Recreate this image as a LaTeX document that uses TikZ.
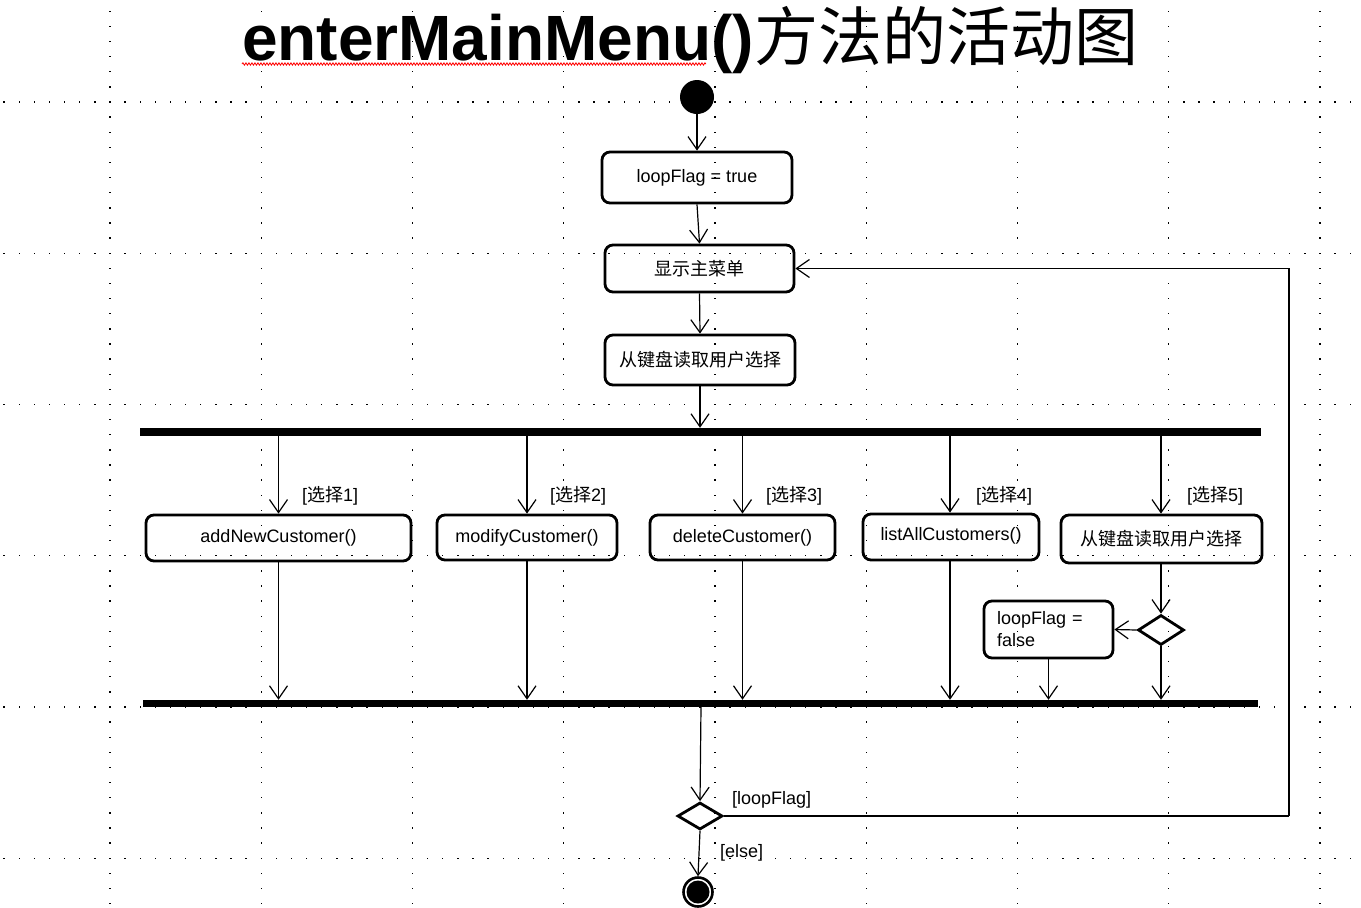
\documentclass[tikz,border=0pt]{standalone}
\usepackage{fontspec}
\setmainfont{Liberation Sans}
\newfontfamily\cjk{Noto Sans CJK SC}
\usetikzlibrary{arrows.meta,shapes.geometric,decorations.pathmorphing,calc}
\newcommand{\zh}[1]{{\cjk #1}}

\begin{document}
\begin{tikzpicture}[x=1pt,y=-1pt,
  act/.style={draw, line width=2.8pt, rounded corners=8pt, font=\fontsize{18}{22}\selectfont, inner sep=0pt},
  bar/.style={fill=black, inner sep=0pt, draw=none},
  dec/.style={diamond, draw, line width=2.8pt, inner sep=0pt},
  arr/.style={line width=1.2pt, -{Straight Barb[length=13pt,width=18pt,line width=1.2pt]}},
  lbl/.style={font=\fontsize{18}{22}\selectfont, inner sep=0pt, anchor=west},
  griddot/.style={fill=black},
]
\useasboundingbox (0,0) rectangle (1361,908);
\fill[white] (0,0) rectangle (1361,908);

% dotted grid
\foreach \yy in {102,253.25,404.5,555.75,707,858.25}{
  \foreach \i in {0,...,89}{
    \fill[griddot] ({4.1+15.125*\i-0.7},{\yy-0.7}) rectangle ++(1.4,1.4);
  }
}
\foreach \xx in {110,261.25,412.5,563.75,715,866.25,1017.5,1168.75,1320}{
  \foreach \j in {0,...,59}{
    \fill[griddot] ({\xx-0.7},{11.25+15.125*\j-0.7}) rectangle ++(1.4,1.4);
  }
}

% title
\node[anchor=base west, inner sep=0pt] (title) at (242,60)
  {\fontsize{64}{70}\selectfont\textbf{enterMainMenu()}\zh{方法的活动图}};
\draw[red, line width=0.8pt, decorate, decoration={snake, amplitude=1.2pt, segment length=3pt}]
  (242,64) -- (706,64);

% nodes
\node[circle, fill=black, minimum size=34pt, inner sep=0pt] (start) at (697,97) {};
\node[act, minimum width=190pt, minimum height=51pt] (n1) at (697,177.5) {loopFlag = true};
\node[act, minimum width=189pt, minimum height=47pt] (n2) at (699.5,268.5) {\zh{显示主菜单}};
\node[act, minimum width=190pt, minimum height=50pt] (n3) at (700,360) {\zh{从键盘读取用户选择}};

\node[bar, minimum width=1121pt, minimum height=8pt] (fork) at (700.5,432) {};

\node[act, minimum width=265pt, minimum height=46pt] (b1) at (278.5,538) {addNewCustomer()};
\node[act, minimum width=180pt, minimum height=45pt] (b2) at (527,537.5) {modifyCustomer()};
\node[act, minimum width=185pt, minimum height=45pt] (b3) at (742.5,537.5) {deleteCustomer()};
\node[act, minimum width=176pt, minimum height=46pt, text depth=6pt] (b4) at (951,537) {listAllCustomers()};
\node[act, minimum width=201pt, minimum height=48pt] (b5) at (1161.5,539) {\zh{从键盘读取用户选择}};

\node[lbl] (g1) at (302,496) {[\zh{选择}1]};
\node[lbl] (g2) at (550,496) {[\zh{选择}2]};
\node[lbl] (g3) at (766,496) {[\zh{选择}3]};
\node[lbl] (g4) at (976,496) {[\zh{选择}4]};
\node[lbl] (g5) at (1187,496) {[\zh{选择}5]};

\node[dec, minimum width=46pt, minimum height=30pt] (d1) at (1161,630) {};
\node[act, minimum width=129pt, minimum height=57pt, text width=103pt, align=left,
      inner xsep=13pt] (lf) at (1048.5,629.5) {loopFlag =\\false};

\node[bar, minimum width=1115pt, minimum height=7pt] (join) at (700.5,703.5) {};

\node[dec, minimum width=45pt, minimum height=27pt] (d2) at (700,816) {};
\node[lbl] (lgl) at (732,800) {[loopFlag]};
\node[lbl] (lge) at (720,853) {[else]};

\node[circle, draw, line width=2.6pt, minimum size=29pt, inner sep=0pt,
      path picture={\fill (path picture bounding box.center) circle (11.5pt);}] (end) at (698,892) {};

\coordinate (lp) at (1289,816);

% connectors
\draw[arr] (start.south) -- (n1.north);
\draw[arr] (n1.south) -- (n2.north);
\draw[arr] (n2.south) -- (n3.north);
\draw[arr] (n3.south) -- (n3.south |- fork.north);

\draw[arr] (b1.north |- fork.south) -- (b1.north);
\draw[arr] (b2.north |- fork.south) -- (b2.north);
\draw[arr] (b3.north |- fork.south) -- (b3.north);
\draw[arr] ([xshift=-1pt]b4.north |- fork.south) -- ([xshift=-1pt]b4.north);
\draw[arr] (d1.north |- fork.south) -- (d1.north |- b5.north);

\draw[arr] (b1.south) -- (b1.south |- join.north);
\draw[arr] (b2.south) -- (b2.south |- join.north);
\draw[arr] (b3.south) -- (b3.south |- join.north);
\draw[arr] ([xshift=-1pt]b4.south) -- ([xshift=-1pt]b4.south |- join.north);
\draw[arr] (d1.north |- b5.south) -- (d1.north);
\draw[arr] (d1.west) -- (lf.east);
\draw[arr] (d1.south) -- (d1.south |- join.north);
\draw[arr] (lf.south) -- (lf.south |- join.north);

\draw[arr] ([xshift=1pt]d2.north |- join.south) -- (d2.north);
\draw[line width=1.2pt] (d2.east) -- (lp);
\draw[arr] (lp) |- (n2.east);
\draw[arr] (d2.south) -- (end.north);
\end{tikzpicture}
\end{document}
